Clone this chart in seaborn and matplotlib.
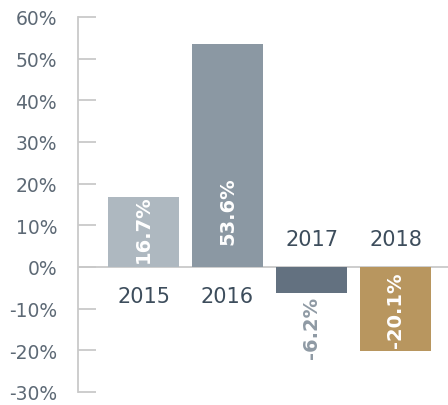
import matplotlib
matplotlib.use("Agg")
import matplotlib.pyplot as plt
import seaborn as sns
import pandas as pd

# chart data
years = ['2015', '2016', '2017', '2018']
returns = [16.7, 53.6, -6.2, -20.1]
bar_colors = ['#aeb8c0', '#8b98a3', '#637180', '#b8965f']
value_labels = ['16.7%', '53.6%', '-6.2%', '-20.1%']
yticks = [-30, -20, -10, 0, 10, 20, 30, 40, 50, 60]

df = pd.DataFrame({'year': years, 'ret': returns})

sns.set_style("white")
plt.rcParams['font.family'] = ['DejaVu Sans']

fig = plt.figure(figsize=(4.48, 4.06), dpi=100)
ax = fig.add_axes([78 / 448, 1 - 393 / 406, 1 - 78 / 448, (393 - 18) / 406])

sns.barplot(data=df, x='year', y='ret', hue='year', palette=bar_colors,
            width=0.845, legend=False, ax=ax, saturation=1, linewidth=0)

ax.set_ylim(-30, 60)
ax.set_xlim(-0.78, 3.625)
ax.set_yticks(yticks)
ax.set_yticklabels([f'{t}%' for t in yticks])
ax.set_xticks([])
ax.set_xlabel('')
ax.set_ylabel('')

for s in ['top', 'right', 'bottom']:
    ax.spines[s].set_visible(False)
ax.spines['left'].set_color('#c9c9c9')
ax.spines['left'].set_linewidth(1.3)
ax.tick_params(axis='y', left=True, direction='in', length=13, width=1.3,
               color='#c9c9c9', pad=15, labelsize=13.5, labelcolor='#5d6975')
ax.axhline(0, color='#c9c9c9', lw=1.3, zorder=0.5)

# year labels: below zero for gains, above zero for losses
for i, (yr, v) in enumerate(zip(years, returns)):
    ypos = -7 if v >= 0 else 6.8
    ax.text(i, ypos, yr, ha='center', va='center', fontsize=15, color='#3d4d5c')

# value labels, rotated
ax.text(0, 1.1, value_labels[0], rotation=90, ha='center', va='bottom',
        fontsize=14, fontweight='bold', color='white')
ax.text(1, 5.5, value_labels[1], rotation=90, ha='center', va='bottom',
        fontsize=14, fontweight='bold', color='white')
ax.text(2, returns[2] - 0.7, value_labels[2], rotation=90, ha='center', va='top',
        fontsize=14, fontweight='bold', color='#8f9aa4')
ax.text(3, -1.2, value_labels[3], rotation=90, ha='center', va='top',
        fontsize=14, fontweight='bold', color='white')

fig.savefig('out.png', dpi=100)
